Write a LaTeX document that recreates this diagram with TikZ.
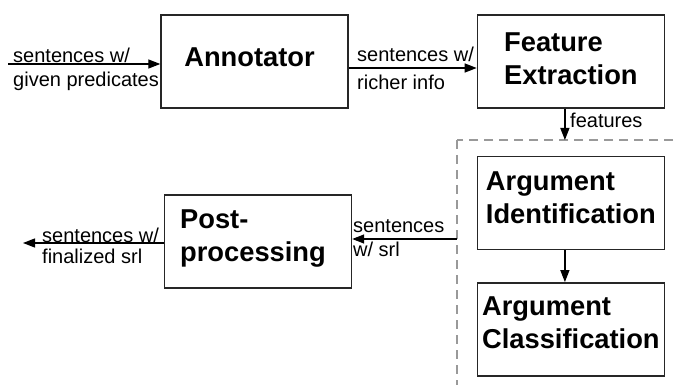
\documentclass[tikz,border=0pt]{standalone}
\usepackage{fontspec}
\setmainfont{Liberation Sans}
\usetikzlibrary{arrows.meta,positioning}

\begin{document}
\begin{tikzpicture}[
  x=1pt, y=-1pt,
  stage/.style={draw=black!85, line width=1.4pt, minimum width=187pt, minimum height=93pt,
                align=left, inner sep=0pt, text depth=8pt, font=\fontsize{27.3}{33}\selectfont\bfseries},
  lbl/.style={font=\fontsize{20}{23}\selectfont, inner sep=0pt, anchor=base west},
  arr/.style={-{Triangle[length=12pt,width=9pt]}, line width=1.3pt},
  grpbox/.style={draw=black!40, line width=1.6pt, dash pattern=on 9pt off 6pt},
]
\useasboundingbox (0,0) rectangle (675,385);

% ================= stages =================
\node[stage] (annot) at (254.5,61.5) {Annotator\hspace*{10pt}};
\node[stage, text depth=5pt, right=128pt of annot] (feat) {Feature\\Extraction};
\node[stage, text depth=10pt, below=47pt of feat] (argid) {Argument\\Identification};
\node[stage, text depth=13pt, below=32pt of argid] (argcl) {Argument\\Classification};
\node[stage, text depth=12pt] (post) at (258,241.5) {Post-\\processing\hspace*{10pt}};

% srl group (runs off the page)
\coordinate (grp) at (457,140);
\begin{scope}
  \clip (0,0) rectangle (675,385);
  \draw[grpbox] (grp) rectangle (700,410);
\end{scope}

% ================= connectors =================
\coordinate (start) at (8,64);
\coordinate (srlout) at (457,239);
\coordinate (final) at (23,243);

\draw[arr] (start) -- (start -| annot.west);
\draw[arr] ([yshift=-6.5pt]annot.east) -- ([yshift=-6.5pt]annot.east -| feat.west);
\draw[arr] ([xshift=-6pt]feat.south) -- ([xshift=-6pt]feat.south |- grp);
\draw[arr] ([xshift=-6pt]argid.south) -- ([xshift=-6pt]argcl.north);
\draw[arr] (srlout) -- (srlout -| post.east);
\draw[arr] (post.west |- final) -- (final);

% labels
\node[lbl] (in1) at (13,63) {sentences w/};
\node[lbl] (in2) at (13,87) {given predicates};
\node[lbl] (mid1) at (357,62) {sentences w/};
\node[lbl] (mid2) at (357,90) {richer info};
\node[lbl] (feats) at (570,128) {features};
\node[lbl] (srl1) at (353,233) {sentences};
\node[lbl] (srl2) at (353,256) {w/ srl};
\node[lbl] (fin1) at (42,242) {sentences w/};
\node[lbl] (fin2) at (42,263) {finalized srl};

\end{tikzpicture}
\end{document}
